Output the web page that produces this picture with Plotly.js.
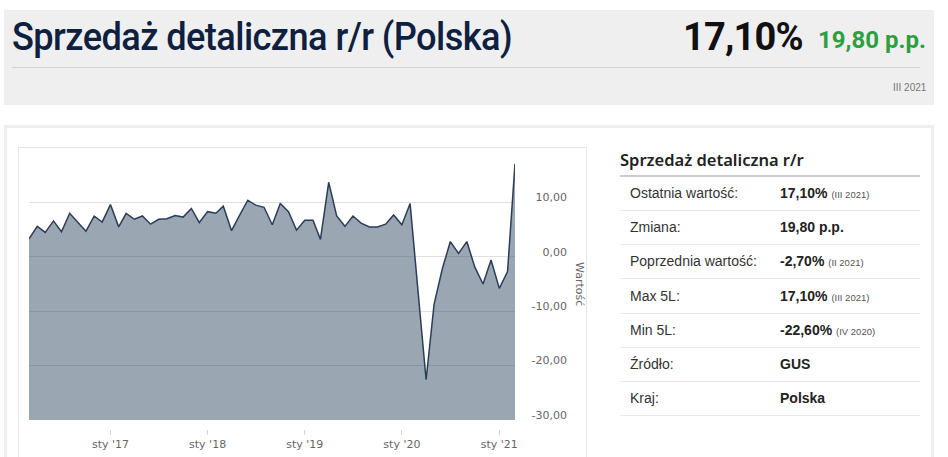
<!DOCTYPE html>
<html>
<head>
<meta charset="utf-8">
<script src="https://cdn.plot.ly/plotly-3.0.1.min.js"></script>
<style>
  html, body { margin: 0; padding: 0; background: #ffffff; width: 948px; height: 457px; overflow: hidden; }
  .abs { position: absolute; white-space: nowrap; }
  #header { position: absolute; left: 4px; top: 10px; width: 930px; height: 95px; background: #efefef; }
  #htitle { left: 12px; top: 14px; font-family: Roboto, "Noto Sans", sans-serif; font-weight: 500; font-size: 38px; color: #0e2040; line-height: 46px; letter-spacing: -0.6px; transform-origin: 0 50%; }
  #hval { left: 683px; top: 14px; font-family: Roboto, "Noto Sans", sans-serif; font-weight: 700; font-size: 38px; color: #111; line-height: 46px; letter-spacing: -0.8px; }
  #hchg { left: 818px; top: 25px; font-family: Roboto, "Noto Sans", sans-serif; font-weight: 700; font-size: 24px; color: #2e9e3f; line-height: 30px; }
  #hline { left: 12px; top: 67px; width: 908px; height: 1px; background: #d3d3d3; }
  #hdate { left: 893px; top: 82px; font-family: "Liberation Sans", Arial, sans-serif; font-size: 10px; color: #777; line-height: 12px; }
  #panel { position: absolute; left: 4px; top: 125px; width: 924px; height: 340px; border: 3px solid #eeeeee; border-bottom: none; background: #fff; }
  #chartbox { position: absolute; left: 18px; top: 147px; width: 567px; height: 320px; border: 1px solid #e6e6e6; border-bottom: none; }
  #chart { position: absolute; left: 18px; top: 147px; width: 568px; height: 310px; }
  #ttitle { left: 620px; top: 148px; font-family: "Noto Sans", sans-serif; font-weight: 600; font-size: 16.5px; color: #222; line-height: 24px; }
  #tline { left: 620px; top: 175px; width: 300px; height: 2px; background: #cccccc; }
  .row { position: absolute; left: 620px; width: 300px; height: 34px; border-bottom: 1px solid #e8e8e8; font-family: "Liberation Sans", Arial, sans-serif; }
  .lab { position: absolute; left: 10px; top: 9px; font-size: 14px; color: #333; line-height: 16px; white-space: nowrap; }
  .val { position: absolute; left: 160px; top: 9px; font-size: 14px; font-weight: 700; color: #222; line-height: 16px; white-space: nowrap; }
  .val small { font-size: 9.5px; font-weight: 400; color: #555; }
</style>
</head>
<body>
<div id="header"></div>
<div class="abs" id="htitle">Sprzedaż detaliczna r/r (Polska)</div>
<div class="abs" id="hval">17,10%</div>
<div class="abs" id="hchg">19,80 p.p.</div>
<div class="abs" id="hline"></div>
<div class="abs" id="hdate">III 2021</div>
<div id="panel"></div>
<div id="chartbox"></div>
<div id="chart"></div>
<div class="abs" id="ttitle">Sprzedaż detaliczna r/r</div>
<div class="abs" id="tline"></div>
<div id="rows"></div>
<script>
// ---- data ----
const months = [
  '2016-03-01','2016-04-01','2016-05-01','2016-06-01','2016-07-01','2016-08-01','2016-09-01','2016-10-01','2016-11-01','2016-12-01',
  '2017-01-01','2017-02-01','2017-03-01','2017-04-01','2017-05-01','2017-06-01','2017-07-01','2017-08-01','2017-09-01','2017-10-01','2017-11-01','2017-12-01',
  '2018-01-01','2018-02-01','2018-03-01','2018-04-01','2018-05-01','2018-06-01','2018-07-01','2018-08-01','2018-09-01','2018-10-01','2018-11-01','2018-12-01',
  '2019-01-01','2019-02-01','2019-03-01','2019-04-01','2019-05-01','2019-06-01','2019-07-01','2019-08-01','2019-09-01','2019-10-01','2019-11-01','2019-12-01',
  '2020-01-01','2020-02-01','2020-03-01','2020-04-01','2020-05-01','2020-06-01','2020-07-01','2020-08-01','2020-09-01','2020-10-01','2020-11-01','2020-12-01',
  '2021-01-01','2021-02-01','2021-03-01'
];
const values = [
  3.3, 5.6, 4.5, 6.6, 4.6, 8.0, 6.3, 4.7, 7.5, 6.4,
  9.6, 5.5, 8.0, 6.9, 7.5, 6.0, 6.9, 7.0, 7.6, 7.3, 8.9, 6.3,
  8.3, 8.0, 9.3, 4.8, 7.6, 10.4, 9.5, 9.1, 5.9, 9.8, 8.3, 4.9,
  6.7, 6.7, 3.2, 13.7, 7.5, 5.6, 7.5, 6.2, 5.5, 5.5, 6.0, 7.7,
  5.9, 9.8, -6.0, -22.6, -8.7, -2.2, 2.8, 0.6, 2.8, -1.9, -5.0, -0.6,
  -5.8, -2.7, 17.1
];
const xTickVals = ['2017-01-01','2018-01-01','2019-01-01','2020-01-01','2021-01-01'];
const xTickText = ["sty '17","sty '18","sty '19","sty '20","sty '21"];
const yTickVals = [-30, -20, -10, 0, 10];
const yTickText = ['-30,00', '-20,00', '-10,00', '0,00', '10,00'];
const yRange = [-30, 20];
const axisTitle = 'Wartość';

const tableLabels = ['Ostatnia wartość:', 'Zmiana:', 'Poprzednia wartość:', 'Max 5L:', 'Min 5L:', 'Źródło:', 'Kraj:'];
const tableValues = ['17,10%', '19,80 p.p.', '-2,70%', '17,10%', '-22,60%', 'GUS', 'Polska'];
const tableNotes  = ['(III 2021)', '', '(II 2021)', '(III 2021)', '(IV 2020)', '', ''];

// ---- header title width fit ----
(function () {
  const t = document.getElementById('htitle');
  const w = t.getBoundingClientRect().width;
  if (w > 0) t.style.transform = 'scaleX(' + (500 / w) + ')';
})();

// ---- table ----
const rowsEl = document.getElementById('rows');
tableLabels.forEach((lab, i) => {
  const r = document.createElement('div');
  r.className = 'row';
  r.style.top = (176 + i * 34.2) + 'px';
  const note = tableNotes[i] ? ' <small>' + tableNotes[i] + '</small>' : '';
  r.innerHTML = '<div class="lab">' + lab + '</div><div class="val">' + tableValues[i] + note + '</div>';
  rowsEl.appendChild(r);
});

// ---- chart ----
const W = 568, H = 310;
const mL = 11, mR = 10, mT = 1, mB = 28;
const plotW = W - mL - mR;            // 547
const plotH = H - mT - mB;            // 281
const xDomEnd = (515 - 29) / plotW;
const yDomStart = 9 / plotH;

const base = {
  x: months, y: months.map(() => yRange[0]),
  type: 'scatter', mode: 'lines', line: { width: 0, color: 'rgba(0,0,0,0)' },
  hoverinfo: 'skip', showlegend: false
};
const area = {
  x: months, y: values,
  type: 'scatter', mode: 'lines', fill: 'tonexty',
  fillcolor: 'rgba(46,69,96,0.48)',
  line: { color: '#2b3d59', width: 1.5 },
  showlegend: false
};

const layout = {
  width: W, height: H,
  margin: { l: mL, r: mR, t: mT, b: mB, pad: 0 },
  paper_bgcolor: 'rgba(0,0,0,0)', plot_bgcolor: 'rgba(0,0,0,0)',
  showlegend: false,
  font: { family: '"DejaVu Sans", Verdana, sans-serif', size: 11, color: '#666' },
  xaxis: {
    type: 'date', range: [months[0], months[months.length - 1]],
    domain: [0, xDomEnd], anchor: 'free', position: 0,
    tickvals: xTickVals, ticktext: xTickText,
    ticks: 'outside', ticklen: 5, tickwidth: 1, tickcolor: '#ccd6eb',
    showgrid: false, showline: false, zeroline: false,
    tickfont: { size: 11, color: '#666' }
  },
  yaxis: {
    range: yRange, domain: [yDomStart, 1],
    tickvals: [-30, -20, -10, 0, 10, 20],
    showticklabels: false, ticks: '',
    showgrid: true, gridcolor: '#e0e0e0', gridwidth: 1,
    zeroline: false, showline: false
  },
  yaxis2: {
    range: yRange, overlaying: 'y', anchor: 'free', side: 'left',
    position: (567 - 29) / plotW,
    tickvals: yTickVals, ticktext: yTickText,
    ticks: '', showgrid: false, zeroline: false, showline: false,
    ticklabelshift: -5,
    tickfont: { size: 11, color: '#666' }
  },
  annotations: [{
    text: axisTitle, xref: 'paper', yref: 'paper',
    x: (580 - 29) / plotW, y: (yDomStart + 1) / 2,
    xanchor: 'center', yanchor: 'middle', textangle: 90, showarrow: false,
    font: { size: 11, color: '#666' }
  }]
};

Plotly.newPlot('chart', [base, area, { x: [months[0]], y: [yRange[0]], yaxis: 'y2', mode: 'markers', marker: { opacity: 0 }, hoverinfo: 'skip', showlegend: false }], layout, { displayModeBar: false, staticPlot: true });
</script>
</body>
</html>
